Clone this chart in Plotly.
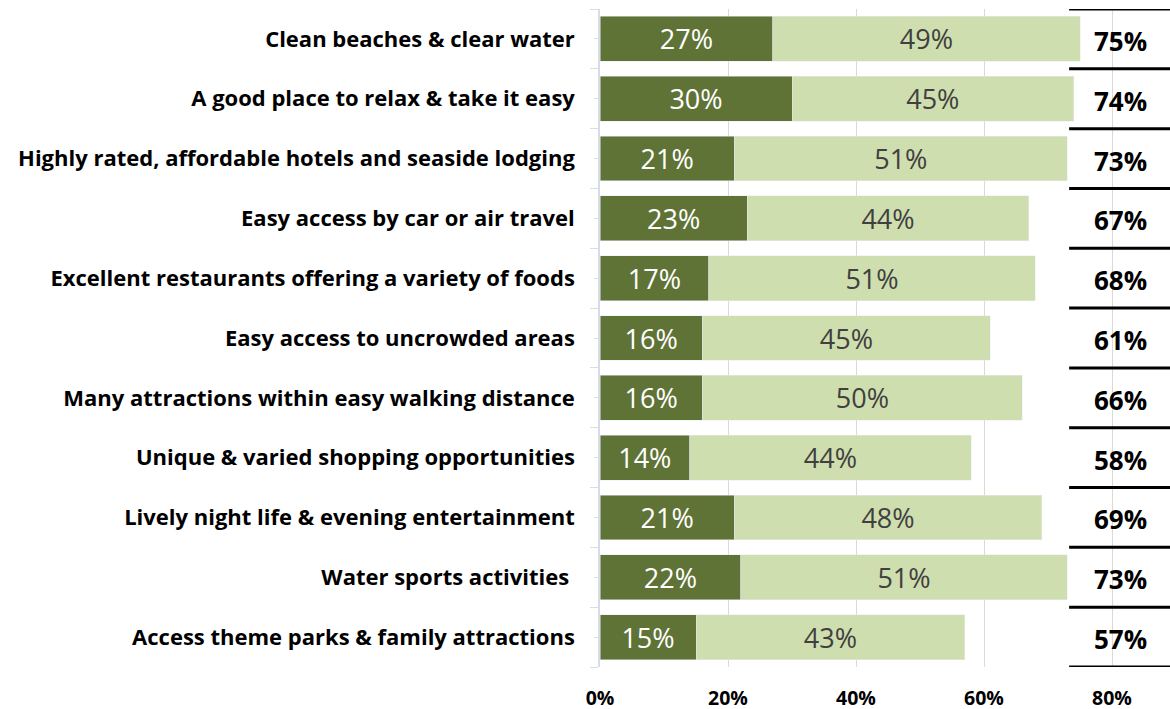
import plotly.graph_objects as go

categories = [
    "Clean beaches & clear water",
    "A good place to relax & take it easy",
    "Highly rated, affordable hotels and seaside lodging",
    "Easy access by car or air travel",
    "Excellent restaurants offering a variety of foods",
    "Easy access to uncrowded areas",
    "Many attractions within easy walking distance",
    "Unique & varied shopping opportunities",
    "Lively night life & evening entertainment",
    "Water sports activities ",
    "Access theme parks & family attractions",
]
# share of "strongly" (dark) and the rest of the positive answers (light)
strong = [27, 30, 21, 23, 17, 16, 16, 14, 21, 22, 15]
somewhat_labels = [49, 45, 51, 44, 51, 45, 50, 44, 48, 51, 43]
totals = [75, 74, 73, 67, 68, 61, 66, 58, 69, 73, 57]
x_ticks = [0, 20, 40, 60, 80]

DARK = "#5f7336"
LIGHT = "#cfdeae"
FONT = "Open Sans"

pos = list(range(len(categories)))
rest = [t - s for t, s in zip(totals, strong)]

fig = go.Figure()
fig.add_trace(go.Bar(
    y=pos, x=strong, orientation="h", marker_color=DARK,
    text=[f"{v}%" for v in strong], textposition="inside",
    insidetextanchor="middle", constraintext="none", textangle=0,
    textfont=dict(family=FONT, size=27, color="white"),
    hoverinfo="skip",
))
fig.add_trace(go.Bar(
    y=pos, x=rest, orientation="h", marker_color=LIGHT,
    text=[f"{v}%" for v in somewhat_labels], textposition="inside",
    insidetextanchor="middle", constraintext="none", textangle=0,
    textfont=dict(family=FONT, size=27, color="#404040"),
    hoverinfo="skip",
))

# totals column at the right, table style
for p, t in zip(pos, totals):
    fig.add_annotation(x=81.25, y=p, yshift=-2, text=f"<b>{t}%</b>", showarrow=False,
                       font=dict(family=FONT, size=26, color="black"))
for k in range(len(categories) + 1):
    fig.add_shape(type="line", x0=73.3, x1=89.1, y0=k - 0.5, y1=k - 0.5,
                  line=dict(color="black", width=3), layer="above")

fig.update_layout(
    width=1170, height=709,
    margin=dict(l=600, r=0, t=9, b=42),
    barmode="stack", bargap=0.25, showlegend=False,
    plot_bgcolor="white", paper_bgcolor="white",
    font=dict(family=FONT, color="black"),
)
fig.update_xaxes(
    range=[0, 89.06], tickmode="array", tickvals=x_ticks,
    ticktext=[f"{v}%" for v in x_ticks], automargin=False,
    showgrid=True, gridcolor="#d9d9d9", gridwidth=1, zeroline=False,
    showline=False, ticks="", ticklabelstandoff=17,
    tickfont=dict(family=FONT, size=19.5, color="black", weight="bold"),
)
fig.update_yaxes(
    range=[10.5, -0.5], tickmode="array", tickvals=pos, ticktext=categories,
    automargin=False,
    showgrid=False, zeroline=False, showline=True, linecolor="#d6dde8",
    linewidth=1.5, ticks="outside", ticklen=4, tickcolor="#d6dde8",
    minor=dict(tickvals=[k - 0.5 for k in range(len(categories) + 1)],
               ticks="outside", ticklen=8, tickcolor="#d6dde8"),
    ticklabelstandoff=15,
    tickfont=dict(family=FONT, size=22, color="black", weight="bold"),
)

fig.write_html("out.html", config={"displayModeBar": False},
               post_script="document.body.style.margin='0px';")
